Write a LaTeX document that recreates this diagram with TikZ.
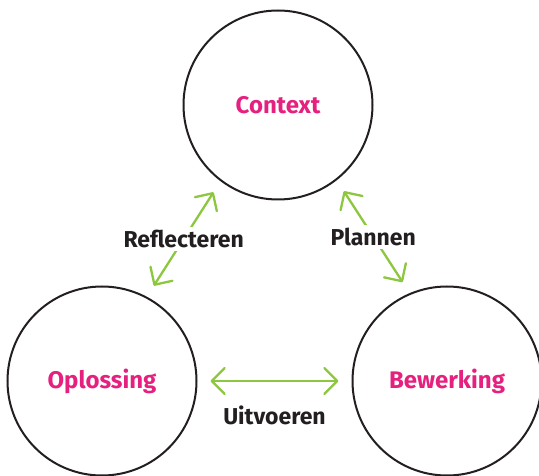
\documentclass[tikz,border=0pt]{standalone}
\usepackage{fontspec}
\setmainfont{Fira Sans}
\usepackage{xcolor}
\usepackage{tikz}
\usetikzlibrary{arrows.meta, positioning}
\definecolor{roze}{HTML}{E5207E}
\definecolor{groen}{HTML}{8DC63F}
\definecolor{inkt}{HTML}{231F20}

\begin{document}
\begin{tikzpicture}[
  x=1pt, y=1pt,
  fase/.style={draw=inkt, line width=2pt, circle, minimum size=189pt,
               inner sep=0pt, font=\fontsize{24}{24}\selectfont\bfseries, text=roze},
  pijl/.style={{Straight Barb[length=13pt, width=26pt, round]}-{Straight Barb[length=13pt, width=26pt, round]},
               draw=groen, line width=2.3pt, shorten <=13pt, shorten >=13pt},
  lbl/.style={font=\fontsize{23}{23}\selectfont\bfseries, text=inkt, fill=white, inner sep=3pt}
]
  \useasboundingbox (0,0) rectangle (539,-476);

  \node[fase] (ctx) at (278,-105) {Context};
  \node[fase, on grid, below left=276pt and 176pt of ctx] (opl) {Oplossing};
  \node[fase, on grid, below right=276pt and 169pt of ctx] (bew) {Bewerking};

  \draw[pijl] (opl.62) -- node[lbl]{Reflecteren} (ctx.233);
  \draw[pijl] (ctx.308) -- node[lbl]{Plannen} (bew.113);
  \draw[pijl] (opl.east) -- node[lbl, fill=none, below=21pt]{Uitvoeren} (bew.west);
\end{tikzpicture}
\end{document}
